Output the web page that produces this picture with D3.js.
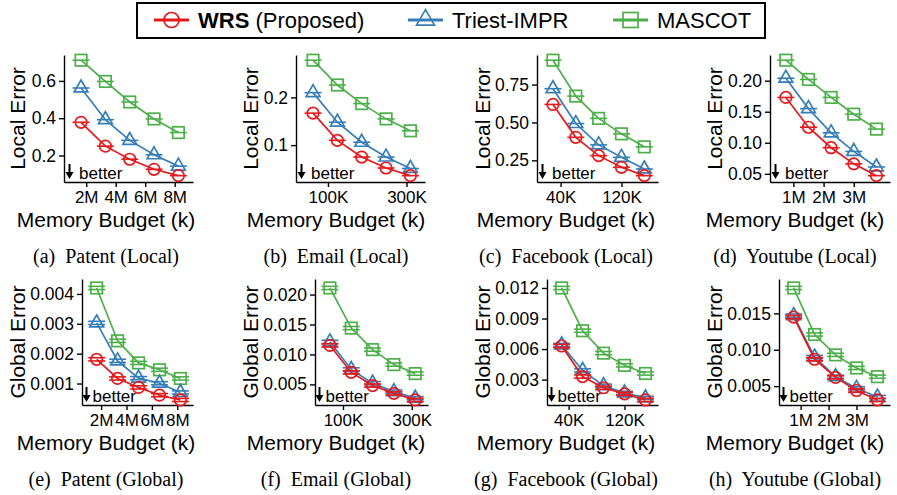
<!DOCTYPE html>
<html>
<head>
<meta charset="utf-8">
<script src="https://cdn.jsdelivr.net/npm/d3@7"></script>
<style>
  body { margin: 0; background: #fff; }
  svg text { font-family: "Liberation Sans", Arial, sans-serif; fill: #000; }
  .caption { font-family: "Liberation Serif", "Times New Roman", serif; white-space: pre; }
  .axis path, .axis line { stroke: #000; stroke-width: 1.4px; }
</style>
</head>
<body>
<div id="chart"></div>
<script>
// series
var seriesNames = ["WRS", "Triest-IMPR", "MASCOT"];
var seriesColors = ["#e41a1c", "#377eb8", "#4daf4a"];
var seriesShapes = ["circle", "triangle", "square"];

// memory budgets (x values)
var patentBudget = [1.65, 3.3, 4.95, 6.6, 8.25];      // M
var emailBudget = [62, 124, 186, 248, 310];           // K
var facebookBudget = [30, 60, 90, 120, 150];          // K
var youtubeBudget = [0.75, 1.5, 2.25, 3.0, 3.75];     // M

// x tick labels
var patentTicks = [2, 4, 6, 8];
var emailTicks = [100, 300];
var facebookTicks = [40, 120];
var youtubeTicks = [1, 2, 3];

// local error
var patentLocalWRS = [0.378, 0.250, 0.180, 0.126, 0.092];
var patentLocalTriest = [0.562, 0.392, 0.281, 0.204, 0.143];
var patentLocalMascot = [0.711, 0.597, 0.487, 0.396, 0.323];
var emailLocalWRS = [0.167, 0.110, 0.075, 0.052, 0.036];
var emailLocalTriest = [0.210, 0.148, 0.106, 0.075, 0.051];
var emailLocalMascot = [0.278, 0.226, 0.187, 0.155, 0.130];
var facebookLocalWRS = [0.619, 0.402, 0.281, 0.204, 0.149];
var facebookLocalTriest = [0.723, 0.493, 0.352, 0.270, 0.193];
var facebookLocalMascot = [0.911, 0.674, 0.527, 0.425, 0.339];
var youtubeLocalWRS = [0.173, 0.125, 0.092, 0.066, 0.047];
var youtubeLocalTriest = [0.204, 0.155, 0.116, 0.086, 0.061];
var youtubeLocalMascot = [0.233, 0.202, 0.173, 0.146, 0.122];

// global error
var patentGlobalWRS = [0.00181, 0.00117, 0.00087, 0.00061, 0.00045];
var patentGlobalTriest = [0.00303, 0.00176, 0.00118, 0.00101, 0.00070];
var patentGlobalMascot = [0.00420, 0.00243, 0.00169, 0.00146, 0.00117];
var emailGlobalWRS = [0.0115, 0.0070, 0.0048, 0.0035, 0.0024];
var emailGlobalTriest = [0.0121, 0.0075, 0.0052, 0.0038, 0.0027];
var emailGlobalMascot = [0.0211, 0.0144, 0.0108, 0.0083, 0.0068];
var facebookGlobalWRS = [0.0063, 0.0033, 0.0022, 0.0016, 0.0010];
var facebookGlobalTriest = [0.0064, 0.0039, 0.0024, 0.0017, 0.0012];
var facebookGlobalMascot = [0.0120, 0.0078, 0.0056, 0.0044, 0.0036];
var youtubeGlobalWRS = [0.0145, 0.0087, 0.0062, 0.0044, 0.0031];
var youtubeGlobalTriest = [0.0147, 0.0090, 0.0063, 0.0047, 0.0035];
var youtubeGlobalMascot = [0.0185, 0.0121, 0.0093, 0.0075, 0.0063];

// y tick values
var patentLocalYTicks = [0.2, 0.4, 0.6];
var emailLocalYTicks = [0.1, 0.2];
var facebookLocalYTicks = [0.25, 0.50, 0.75];
var youtubeLocalYTicks = [0.05, 0.10, 0.15, 0.20];
var patentGlobalYTicks = [0.001, 0.002, 0.003, 0.004];
var emailGlobalYTicks = [0.005, 0.010, 0.015, 0.020];
var facebookGlobalYTicks = [0.003, 0.006, 0.009, 0.012];
var youtubeGlobalYTicks = [0.005, 0.010, 0.015];

var panels = [
  { cap: "(a)  Patent (Local)", x: patentBudget, xt: patentTicks, unit: "M", ys: [patentLocalWRS, patentLocalTriest, patentLocalMascot], yt: patentLocalYTicks, fmt: ".1f", title: "Local Error", row: 0, col: 0, x0: 64, x1: 193 },
  { cap: "(b)  Email (Local)", x: emailBudget, xt: emailTicks, unit: "K", ys: [emailLocalWRS, emailLocalTriest, emailLocalMascot], yt: emailLocalYTicks, fmt: ".1f", title: "Local Error", row: 0, col: 1, x0: 296, x1: 425 },
  { cap: "(c)  Facebook (Local)", x: facebookBudget, xt: facebookTicks, unit: "K", ys: [facebookLocalWRS, facebookLocalTriest, facebookLocalMascot], yt: facebookLocalYTicks, fmt: ".2f", title: "Local Error", row: 0, col: 2, x0: 537, x1: 658 },
  { cap: "(d)  Youtube (Local)", x: youtubeBudget, xt: youtubeTicks, unit: "M", ys: [youtubeLocalWRS, youtubeLocalTriest, youtubeLocalMascot], yt: youtubeLocalYTicks, fmt: ".2f", title: "Local Error", row: 0, col: 3, x0: 770, x1: 890 },
  { cap: "(e)  Patent (Global)", x: patentBudget, xt: patentTicks, unit: "M", ys: [patentGlobalWRS, patentGlobalTriest, patentGlobalMascot], yt: patentGlobalYTicks, fmt: ".3f", title: "Global Error", row: 1, col: 0, x0: 82, x1: 193 },
  { cap: "(f)  Email (Global)", x: emailBudget, xt: emailTicks, unit: "K", ys: [emailGlobalWRS, emailGlobalTriest, emailGlobalMascot], yt: emailGlobalYTicks, fmt: ".3f", title: "Global Error", row: 1, col: 1, x0: 315, x1: 428 },
  { cap: "(g)  Facebook (Global)", x: facebookBudget, xt: facebookTicks, unit: "K", ys: [facebookGlobalWRS, facebookGlobalTriest, facebookGlobalMascot], yt: facebookGlobalYTicks, fmt: ".3f", title: "Global Error", row: 1, col: 2, x0: 547, x1: 658 },
  { cap: "(h)  Youtube (Global)", x: youtubeBudget, xt: youtubeTicks, unit: "M", ys: [youtubeGlobalWRS, youtubeGlobalTriest, youtubeGlobalMascot], yt: youtubeGlobalYTicks, fmt: ".3f", title: "Global Error", row: 1, col: 3, x0: 779, x1: 890 }
];

var width = 897, height = 495;
var rowTop = [55, 279], rowBottom = [182, 405];
var colCenter = [106, 336, 566, 795];
var yTitleX = [25, 258, 490, 722];

var svg = d3.select("#chart").append("svg")
  .attr("width", width)
  .attr("height", height);

function drawMarker(g, shape, color, size) {
  if (shape == "circle") {
    g.append("circle").attr("r", size * 0.5)
      .attr("fill", "none").attr("stroke", color).attr("stroke-width", 1.7);
  } else if (shape == "square") {
    g.append("rect").attr("x", -size / 2).attr("y", -size / 2)
      .attr("width", size).attr("height", size)
      .attr("fill", "none").attr("stroke", color).attr("stroke-width", 1.7);
  } else {
    g.append("path")
      .attr("d", d3.symbol().type(d3.symbolTriangle).size(size * size * 0.62)())
      .attr("fill", "none").attr("stroke", color).attr("stroke-width", 1.7);
  }
}

panels.forEach(function(p) {
  var y0 = rowTop[p.row], y1 = rowBottom[p.row];
  var step = p.x[1] - p.x[0];

  var x = d3.scaleLinear()
    .domain([p.x[0] - 0.7 * step, p.x[p.x.length - 1] + 0.6 * step])
    .range([p.x0, p.x1]);

  var all = d3.merge(p.ys);
  var lo = d3.min(all), hi = d3.max(all), r = hi - lo;
  var padTop = p.row == 0 ? 0.045 : 0.08;
  var padBot = p.row == 0 ? 0.055 : 0.045;
  var y = d3.scaleLinear()
    .domain([lo - padBot * r, hi + padTop * r])
    .range([y1, y0]);

  var g = svg.append("g");

  // axes
  g.append("g")
    .attr("class", "axis")
    .attr("transform", "translate(" + p.x0 + ",0)")
    .call(d3.axisLeft(y).tickValues(p.yt).tickFormat(d3.format(p.fmt))
      .tickSize(5).tickSizeOuter(0).tickPadding(3))
    .selectAll("text").style("font-size", "17.5px").style("font-family", "Liberation Sans, Arial, sans-serif");

  g.append("g")
    .attr("class", "axis")
    .attr("transform", "translate(0," + y1 + ")")
    .call(d3.axisBottom(x).tickValues(p.xt).tickFormat(function(d) { return d + p.unit; })
      .tickSize(5).tickSizeOuter(0).tickPadding(4))
    .selectAll("text").style("font-size", "17px").style("font-family", "Liberation Sans, Arial, sans-serif");

  // "better" hint
  var hx = p.x0 + (p.row == 0 ? 5.5 : 4.5);
  g.append("line")
    .attr("x1", hx).attr("x2", hx)
    .attr("y1", y1 - 18).attr("y2", y1 - 8)
    .attr("stroke", "#000").attr("stroke-width", 2);
  g.append("path")
    .attr("d", "M" + (hx - 4) + "," + (y1 - 10) + "L" + (hx + 4) + "," + (y1 - 10) + "L" + hx + "," + (y1 - 3) + "Z")
    .attr("fill", "#000");
  g.append("text")
    .attr("x", p.x0 + (p.row == 0 ? 15 : 10.5))
    .attr("y", y1 - 3.5)
    .style("font-size", "17px")
    .text("better");

  // series: draw MASCOT first, WRS on top
  var line = d3.line()
    .x(function(d) { return x(d[0]); })
    .y(function(d) { return y(d[1]); });

  [2, 1, 0].forEach(function(s) {
    var pts = p.x.map(function(v, i) { return [v, p.ys[s][i]]; });
    var color = seriesColors[s];

    g.append("path")
      .datum(pts)
      .attr("d", line)
      .attr("fill", "none")
      .attr("stroke", color)
      .attr("stroke-width", 1.7);

    var offs = p.row == 0 ? [0] : [-1.6, 1.6];
    pts.forEach(function(d) {
      offs.forEach(function(o) {
        g.append("line")
          .attr("x1", x(d[0]) - 8.5).attr("x2", x(d[0]) + 8.5)
          .attr("y1", y(d[1]) + o).attr("y2", y(d[1]) + o)
          .attr("stroke", color).attr("stroke-width", 1.6);
      });
      var m = g.append("g").attr("transform", "translate(" + x(d[0]) + "," + y(d[1]) + ")");
      drawMarker(m, seriesShapes[s], color, 11.5);
    });
  });

  // titles
  g.append("text")
    .attr("transform", "translate(" + yTitleX[p.col] + "," + ((y0 + y1) / 2) + ") rotate(-90)")
    .attr("text-anchor", "middle")
    .style("font-size", "21px")
    .text(p.title);

  g.append("text")
    .attr("x", colCenter[p.col])
    .attr("y", y1 + 44.5)
    .attr("text-anchor", "middle")
    .style("font-size", "21px")
    .text("Memory Budget (k)");

  g.append("text")
    .attr("class", "caption")
    .attr("x", colCenter[p.col])
    .attr("y", y1 + 81)
    .attr("text-anchor", "middle")
    .style("font-size", "20px")
    .text(p.cap);
});

// legend
var legend = svg.append("g");
legend.append("rect")
  .attr("x", 137).attr("y", 3)
  .attr("width", 628).attr("height", 35)
  .attr("fill", "#fff").attr("stroke", "#000").attr("stroke-width", 2);

var legendX = [154, 408, 613];
seriesNames.forEach(function(name, s) {
  var lx = legendX[s];
  var item = legend.append("g").attr("transform", "translate(" + lx + ",20)");
  item.append("line")
    .attr("x1", 0).attr("x2", 35)
    .attr("stroke", seriesColors[s]).attr("stroke-width", 3);
  var m = item.append("g").attr("transform", "translate(17.5,0)");
  drawMarker(m, seriesShapes[s], seriesColors[s], 15);

  var t = legend.append("text")
    .attr("x", lx + 44)
    .attr("y", 28)
    .style("font-size", "22px");
  if (s == 0) {
    t.append("tspan").style("font-weight", "bold").text("WRS");
    t.append("tspan").text(" (Proposed)");
  } else {
    t.text(name);
  }
});
</script>
</body>
</html>
